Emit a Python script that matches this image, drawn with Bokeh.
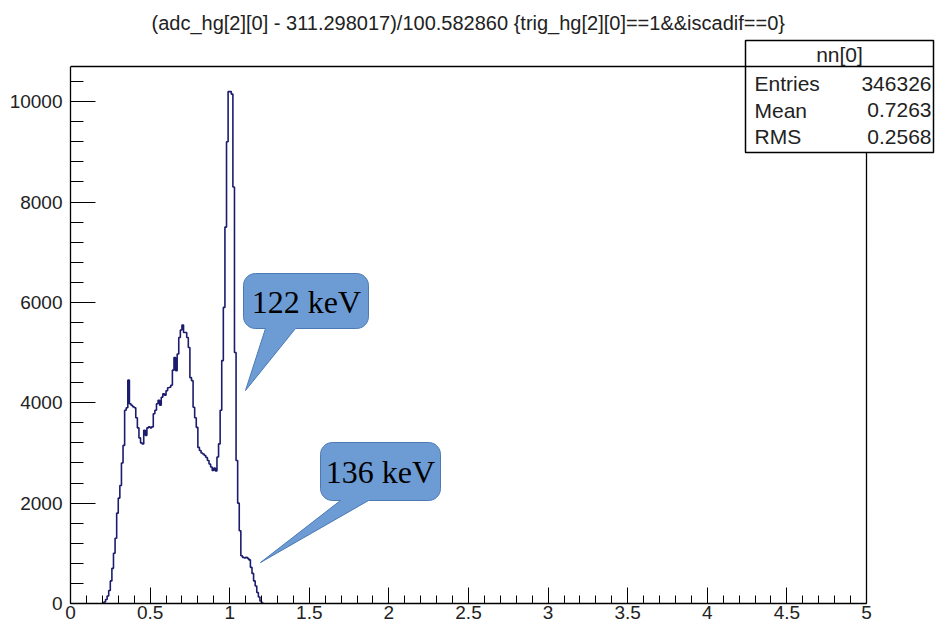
import numpy as np
from bokeh.plotting import figure
from bokeh.models import SingleIntervalTicker, CustomJSTickFormatter, Range1d
from bokeh.core.properties import value
from bokeh.embed import file_html
from bokeh.resources import INLINE

# ---------------- data ----------------
bin_low = 0.20
bin_width = 0.01
counts = [
    10, 30, 80, 150, 260, 450, 700, 1000, 1300, 1800,          # 0.20-0.29
    2100, 2350, 2800, 3150, 3850, 3900, 4450, 3980, 3950, 3920,  # 0.30-0.39
    3900, 3700, 3500, 3300, 3200, 3180, 3450, 3350, 3500, 3520,  # 0.40-0.49
    3500, 3520, 3780, 3850, 3980, 4050, 3950, 4110, 4180, 4150,  # 0.50-0.59
    4240, 4300, 4310, 4350, 4650, 4900, 4640, 4970, 5300, 5450,  # 0.60-0.69
    5550, 5400, 5400, 5300, 5100, 4500, 4440, 3910, 3700, 3510,  # 0.70-0.79
    3110, 3050, 3000, 2980, 2950, 2910, 2850, 2780, 2720, 2650,  # 0.80-0.89
    2700, 2640, 2920, 3180, 3850, 4840, 5900, 7500, 9200, 10200,  # 0.90-0.99
    10200, 10150, 8300, 5000, 2850, 2000, 1450, 950, 920, 910,   # 1.00-1.09
    920, 900, 870, 720, 600, 450, 350, 220, 130, 50,             # 1.10-1.19
    10,                                                          # 1.20
]
x_min, x_max = 0.0, 5.0
y_min, y_max = 0.0, 10700.0

title_text = "(adc_hg[2][0] - 311.298017)/100.582860  {trig_hg[2][0]==1&&iscadif==0}"
stats_name = "nn[0]"
stats_labels = ["Entries", "Mean", "RMS"]
stats_values = ["346326", "0.7263", "0.2568"]
callout_texts = ["122 keV", "136 keV"]

# ---------------- layout (picture pixels) ----------------
W, H = 935, 630
FL, FR, FT, FB = 70, 866, 66, 603   # ROOT frame edges
TOP = 38                            # top of the Bokeh frame (room for stats box)


def dx(px):
    return (px - FL) / (FR - FL) * (x_max - x_min) + x_min


def dy(py):
    return (FB - py) / (FB - FT) * (y_max - y_min) + y_min


p = figure(width=W, height=H, output_backend="svg", toolbar_location=None,
           x_range=Range1d(x_min, dx(W)), y_range=Range1d(y_min, dy(TOP)),
           min_border_left=FL, min_border_right=0,
           min_border_top=TOP, min_border_bottom=H - FB,
           background_fill_color="white", border_fill_color="white")

p.grid.visible = False
p.outline_line_color = None

# title
p.title.text = title_text
p.title.align = "left"
p.title.offset = 81
p.title.text_font = "Liberation Sans"
p.title.text_font_size = "20px"
p.title.text_font_style = "normal"
p.title.text_color = "#222222"
p.title.standoff = 10

# axes
p.xaxis.ticker = SingleIntervalTicker(interval=0.5, num_minor_ticks=5)
p.yaxis.ticker = SingleIntervalTicker(interval=2000, num_minor_ticks=5)
p.xaxis.formatter = CustomJSTickFormatter(code="return tick.toString();")
p.xaxis.bounds = (x_min, x_max)
p.yaxis.bounds = (y_min, y_max)
for ax in (p.xaxis, p.yaxis):
    ax.axis_line_color = "black"
    ax.axis_line_width = 1.3
    ax.major_tick_line_color = "black"
    ax.minor_tick_line_color = "black"
    ax.major_tick_out = 0
    ax.minor_tick_out = 0
    ax.major_label_text_font = "Liberation Sans"
    ax.major_label_text_font_size = "19px"
    ax.major_label_text_color = "#222222"
p.xaxis.major_tick_in = 16
p.xaxis.minor_tick_in = 8
p.xaxis.major_label_standoff = 2
p.yaxis.major_tick_in = 25
p.yaxis.minor_tick_in = 13
p.yaxis.major_label_standoff = 8

# frame top / right edges
p.line(x=[x_min, x_max, x_max], y=[y_max, y_max, y_min], line_color="black",
       line_width=1.3)

# histogram
edges = bin_low + bin_width * np.arange(len(counts) + 1)
ys = np.append(np.array(counts, dtype=float), 0.0)
p.step(x=edges, y=ys, mode="after", line_color="#1c1c6e", line_width=1.6)


# callouts
def callout(x0, y0, x1, y1, r, tb_l, tb_r, tip):
    pts = []

    def arc(cx, cy, a0, a1):
        for a in np.linspace(np.radians(a0), np.radians(a1), 10):
            pts.append((cx + r * np.cos(a), cy + r * np.sin(a)))
    arc(x1 - r, y0 + r, -90, 0)
    arc(x1 - r, y1 - r, 0, 90)
    pts.append((tb_r, y1))
    pts.append(tip)
    pts.append((tb_l, y1))
    arc(x0 + r, y1 - r, 90, 180)
    arc(x0 + r, y0 + r, 180, 270)
    return [dx(a) for a, b in pts], [dy(b) for a, b in pts]


shapes = [
    dict(box=(243, 273, 368, 328), tb=(265, 295), tip=(245, 390), txt=(306, 301)),
    dict(box=(320, 442, 440, 500), tb=(340, 368), tip=(260, 562), txt=(380, 471)),
]
for s, label in zip(shapes, callout_texts):
    x0, y0, x1, y1 = s["box"]
    xs, yv = callout(x0, y0, x1, y1, 12, s["tb"][0], s["tb"][1], s["tip"])
    p.patch(xs, yv, fill_color="#6d9bd3", line_color="#4a79b4", line_width=1)
    p.text(x=[dx(s["txt"][0])], y=[dy(s["txt"][1])], text=[label],
           text_font=value("Liberation Serif"), text_font_size="32px",
           text_align="center", text_baseline="middle", text_color="black")

# stats box
bx0, by0, bx1, by1 = 745, 40, 933, 152
p.quad(left=[dx(bx0)], right=[dx(bx1)], top=[dy(by0)], bottom=[dy(by1)],
       fill_color="white", line_color="black", line_width=1.5)
p.line(x=[dx(bx0), dx(bx1)], y=[dy(FT), dy(FT)], line_color="black", line_width=1.5)
p.text(x=[dx((bx0 + bx1) / 2)], y=[dy(54)], text=[stats_name],
       text_align="center", text_baseline="middle",
       text_font=value("Liberation Sans"), text_font_size="21px", text_color="#222222")
row_y = [dy(83 + 26.5 * i) for i in range(len(stats_labels))]
p.text(x=[dx(754)] * len(stats_labels), y=row_y, text=stats_labels,
       text_align="left", text_baseline="middle",
       text_font=value("Liberation Sans"), text_font_size="21px", text_color="#222222")
p.text(x=[dx(931)] * len(stats_values), y=row_y, text=stats_values,
       text_align="right", text_baseline="middle",
       text_font=value("Liberation Sans"), text_font_size="21px", text_color="#222222")

open("out.html", "w").write(file_html(p, INLINE))
